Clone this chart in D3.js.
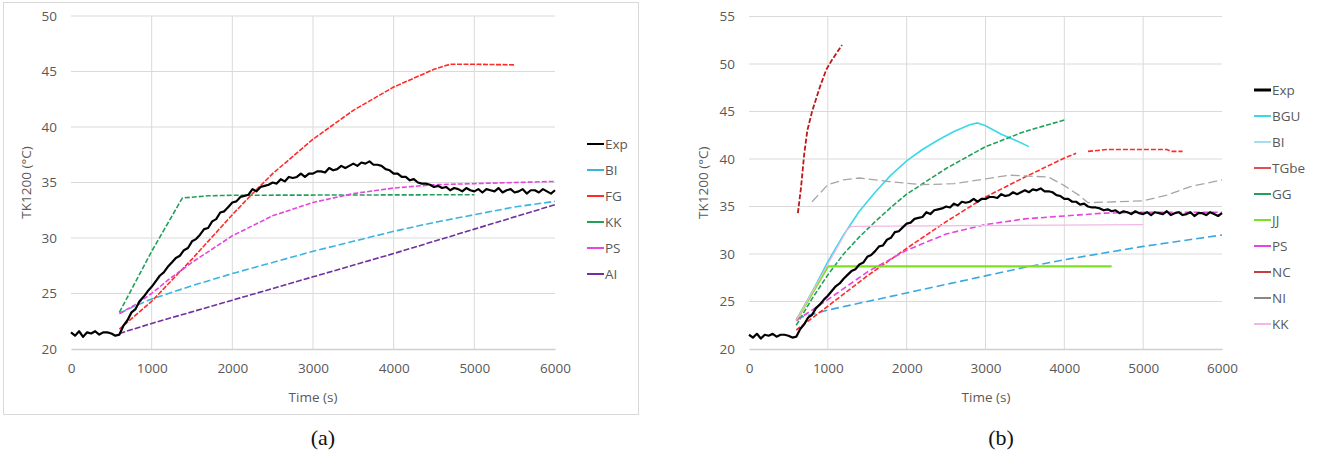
<!DOCTYPE html>
<html>
<head>
<meta charset="utf-8">
<script src="https://cdn.jsdelivr.net/npm/d3@7"></script>
<style>
  html, body { margin: 0; padding: 0; background: #fff; }
  svg { display: block; }
  .tick text { font-family: "Open Sans", sans-serif; font-size: 13.5px; fill: #595959; }
  .lbl { font-family: "Open Sans", sans-serif; font-size: 13.5px; fill: #595959; }
  .cap { font-family: "Liberation Serif", "DejaVu Serif", serif; font-size: 22px; fill: #111; }
</style>
</head>
<body>
<svg id="chart" width="1318" height="454"></svg>
<script>
'use strict'

// shared ticks
var timeTicks = [0, 1000, 2000, 3000, 4000, 5000, 6000]
var tempTicksA = [20, 25, 30, 35, 40, 45, 50]
var tempTicksB = [20, 25, 30, 35, 40, 45, 50, 55]

// measured temperature, one value every 50 s from 0 to 6000 s
var expStep = 50
var expValues = [
  21.5, 21.2, 21.6, 21.1, 21.5, 21.4, 21.6, 21.3, 21.5, 21.5, 21.4, 21.2,
  21.3,
  22.1, 22.6, 23.3, 23.6, 24.3, 24.7, 25.2, 25.6, 26.1, 26.6, 26.9, 27.4,
  27.8, 28.2, 28.4, 28.9, 29.1, 29.7, 29.9, 30.3, 30.8, 30.9, 31.5, 31.7,
  32.3, 32.4, 32.8, 33.2, 33.3, 33.7, 33.8, 33.9, 34.4, 34.2, 34.6, 34.7,
  34.8, 35.0, 34.9, 35.3, 35.1, 35.5, 35.4, 35.5, 35.8, 35.5, 35.8, 35.8,
  36.0, 36.0, 35.9, 36.3, 36.1, 36.2, 36.5, 36.3, 36.5, 36.7, 36.5, 36.8,
  36.7, 36.9, 36.6, 36.6, 36.5, 36.2, 36.1, 35.8, 35.8, 35.5, 35.5, 35.2,
  35.3, 35.0, 34.9, 34.9, 34.8, 34.6, 34.7, 34.5, 34.6, 34.3, 34.5, 34.4,
  34.2, 34.5, 34.3, 34.2, 34.4, 34.1, 34.4, 34.3, 34.2, 34.5, 34.1, 34.3,
  34.4, 34.1, 34.2, 34.4, 34.0, 34.3, 34.3, 34.1, 34.4, 34.2, 34.0, 34.3
]
var expSeries = expValues.map((v, i) => [i * expStep, v])

// chart (a) models  [time s, temperature °C]
var biA = [[600, 23.2], [800, 23.9], [1000, 24.5], [1500, 25.7], [2000, 26.8], [2500, 27.8], [3000, 28.8], [3500, 29.7], [4000, 30.6], [4500, 31.4], [5000, 32.1], [5500, 32.8], [6000, 33.3]]
var fgA = [[600, 21.8], [1000, 24.3], [1500, 28.1], [2000, 32.1], [2250, 34.0], [2500, 35.8], [3000, 38.9], [3500, 41.5], [4000, 43.6], [4500, 45.2], [4700, 45.65], [5000, 45.65], [5500, 45.6]]
var kkA = [[600, 23.3], [1000, 28.8], [1380, 33.6], [1700, 33.8], [2000, 33.85], [5000, 33.9]]
var psA = [[600, 23.2], [800, 24.0], [1000, 25.0], [1200, 26.2], [1500, 27.8], [2000, 30.2], [2500, 32.0], [3000, 33.2], [3500, 34.0], [4000, 34.5], [4500, 34.8], [5000, 34.9], [5500, 35.0], [6000, 35.1]]
var aiA = [[600, 21.4], [1000, 22.3], [2000, 24.4], [3000, 26.5], [4000, 28.6], [5000, 30.8], [6000, 33.0]]

// chart (b) models
var bguB = [[600, 23.0], [800, 26.0], [1000, 29.2], [1200, 32.0], [1400, 34.5], [1600, 36.5], [1800, 38.3], [2000, 39.8], [2200, 41.0], [2400, 42.0], [2600, 42.9], [2800, 43.6], [2900, 43.8], [3000, 43.5], [3200, 42.6], [3400, 41.9], [3550, 41.3]]
var biB = [[600, 23.2], [1000, 24.1], [1500, 25.0], [2000, 25.9], [2500, 26.8], [3000, 27.7], [3500, 28.6], [4000, 29.4], [4500, 30.1], [5000, 30.8], [5500, 31.4], [6000, 32.0]]
var tgbeB = [[600, 22.0], [1000, 24.5], [1500, 27.7], [2000, 30.6], [2500, 33.4], [3000, 36.0], [3500, 38.1], [4000, 40.1], [4150, 40.6], [4200, null], [4300, 40.8], [4550, 41.0], [5300, 41.0], [5350, 40.8], [5500, 40.8]]
var ggB = [[600, 22.5], [800, 25.3], [1000, 27.8], [1200, 30.0], [1400, 31.8], [1600, 33.4], [1800, 34.9], [2000, 36.3], [2500, 39.0], [3000, 41.3], [3500, 42.9], [4000, 44.1]]
var jjB = [[600, 23.0], [1000, 28.7], [4600, 28.7]]
var psB = [[600, 23.0], [1000, 25.2], [1500, 28.1], [2000, 30.4], [2500, 32.1], [3000, 33.1], [3500, 33.7], [4000, 34.0], [4500, 34.3], [5000, 34.4], [6000, 34.4]]
var ncB = [[620, 34.3], [660, 37.0], [700, 40.5], [740, 43.0], [800, 45.0], [900, 47.6], [980, 49.4], [1050, 50.4], [1180, 52.0]]
var niB = [[800, 35.5], [1000, 37.3], [1200, 37.8], [1400, 38.0], [1800, 37.6], [2200, 37.3], [2600, 37.4], [3000, 37.9], [3300, 38.3], [3800, 38.1], [4000, 37.2], [4200, 36.1], [4300, 35.4], [5000, 35.6], [5300, 36.2], [5600, 37.1], [6000, 37.8]]
var kkB = [[600, 23.0], [1250, 32.6], [1300, 32.9], [5000, 33.1]]

var svg = d3.select('#chart')

// frame around panel (a)
svg.append('rect')
  .attr('x', 3.5).attr('y', 2.5)
  .attr('width', 635).attr('height', 412)
  .attr('fill', 'none')
  .attr('stroke', '#d9d9d9')

drawPanel({
  xRange: [71, 555],
  yRange: [349, 16],
  yDomain: [20, 50],
  yTicks: tempTicksA,
  yLabelX: 26,
  xLabelX: 313,
  legendX: 587,
  legendY: 144,
  series: [
    { name: 'Exp', data: expSeries, color: '#000', width: 2.2, dash: null },
    { name: 'BI', data: biA, color: '#3cb4e0', width: 1.6, dash: '7,3' },
    { name: 'FG', data: fgA, color: '#ff2a2a', width: 1.6, dash: '5,1.5' },
    { name: 'KK', data: kkA, color: '#22a05a', width: 1.6, dash: '5,2' },
    { name: 'PS', data: psA, color: '#e645e0', width: 1.6, dash: '5,2' },
    { name: 'AI', data: aiA, color: '#7030a0', width: 1.6, dash: '6,2' }
  ]
})

drawPanel({
  xRange: [749, 1222],
  yRange: [349, 16.5],
  yDomain: [20, 55],
  yTicks: tempTicksB,
  yLabelX: 703,
  xLabelX: 986,
  legendX: 1254,
  legendY: 90,
  series: [
    { name: 'Exp', data: expSeries, color: '#000', width: 2.2, dash: null, swatch: 3 },
    { name: 'BGU', data: bguB, color: '#3ad8e8', width: 1.6, dash: null },
    { name: 'BI', data: biB, color: '#3aa8e0', width: 1.6, dash: '8,4', swatchColor: '#a8dcef' },
    { name: 'TGbe', data: tgbeB, color: '#ff2a2a', width: 1.6, dash: '5,2', swatchColor: '#e05050' },
    { name: 'GG', data: ggB, color: '#22a05a', width: 1.6, dash: '5,2' },
    { name: 'JJ', data: jjB, color: '#7ee022', width: 2.4, dash: null },
    { name: 'PS', data: psB, color: '#e645e0', width: 1.6, dash: '6,3' },
    { name: 'NC', data: ncB, color: '#c01818', width: 1.8, dash: '5,2', swatchColor: '#c04040' },
    { name: 'NI', data: niB, color: '#a6a6a6', width: 1.3, dash: '9,4', swatchColor: '#888' },
    { name: 'KK', data: kkB, color: '#f2b8e4', width: 1.2, dash: null }
  ]
})

svg.append('text').attr('class', 'cap')
  .attr('x', 323).attr('y', 445).attr('text-anchor', 'middle').text('(a)')
svg.append('text').attr('class', 'cap')
  .attr('x', 1001).attr('y', 445).attr('text-anchor', 'middle').text('(b)')

function drawPanel (cfg) {
  var x = d3.scaleLinear().domain([0, 6000]).range(cfg.xRange)
  var y = d3.scaleLinear().domain(cfg.yDomain).range(cfg.yRange)
  var g = svg.append('g')

  // gridlines
  g.append('g')
    .selectAll('line.h')
    .data(cfg.yTicks.slice(1))
    .enter().append('line')
      .attr('x1', cfg.xRange[0]).attr('x2', cfg.xRange[1])
      .attr('y1', (d) => y(d)).attr('y2', (d) => y(d))
      .attr('stroke', '#dadada')
  g.append('g')
    .selectAll('line.v')
    .data(timeTicks.slice(1, -1))
    .enter().append('line')
      .attr('x1', (d) => x(d)).attr('x2', (d) => x(d))
      .attr('y1', cfg.yRange[0]).attr('y2', cfg.yRange[1])
      .attr('stroke', '#dadada')

  // axes
  var xAxis = g.append('g')
    .attr('transform', 'translate(0,' + cfg.yRange[0] + ')')
    .call(d3.axisBottom(x).tickValues(timeTicks).tickFormat(d3.format('d')).tickSize(0).tickPadding(14))
  xAxis.select('.domain').attr('stroke', '#d0d0d0').attr('stroke-width', 1.5)

  var yAxis = g.append('g')
    .attr('transform', 'translate(' + cfg.xRange[0] + ',0)')
    .call(d3.axisLeft(y).tickValues(cfg.yTicks).tickFormat(d3.format('d')).tickSize(0).tickPadding(14))
  yAxis.select('.domain').remove()

  g.append('text').attr('class', 'lbl')
    .attr('text-anchor', 'middle')
    .attr('transform', 'translate(' + cfg.yLabelX + ',' + ((cfg.yRange[0] + cfg.yRange[1]) / 2) + ') rotate(-90)')
    .attr('dy', '0.35em')
    .text('TK1200 (°C)')
  g.append('text').attr('class', 'lbl')
    .attr('text-anchor', 'middle')
    .attr('x', cfg.xLabelX).attr('y', 402)
    .text('Time (s)')

  var line = d3.line()
    .defined((d) => d[1] !== null)
    .x((d) => x(d[0]))
    .y((d) => y(d[1]))

  // models drawn first, measurement on top
  var ordered = cfg.series.slice(1).concat(cfg.series.slice(0, 1))
  g.append('g')
    .selectAll('path')
    .data(ordered)
    .enter().append('path')
      .attr('d', (d) => line(d.data))
      .attr('fill', 'none')
      .attr('stroke', (d) => d.color)
      .attr('stroke-width', (d) => d.width)
      .attr('stroke-dasharray', (d) => d.dash)
      .attr('stroke-linejoin', 'round')

  // legend
  var item = g.append('g')
    .selectAll('g')
    .data(cfg.series)
    .enter().append('g')
      .attr('transform', (d, i) => 'translate(' + cfg.legendX + ',' + (cfg.legendY + i * 26) + ')')
  item.append('line')
    .attr('x1', 0).attr('x2', 17)
    .attr('stroke', (d) => d.swatchColor || d.color)
    .attr('stroke-width', (d) => d.swatch || 2)
  item.append('text').attr('class', 'lbl')
    .attr('x', 18).attr('dy', '0.35em')
    .text((d) => d.name)
}
</script>
</body>
</html>
